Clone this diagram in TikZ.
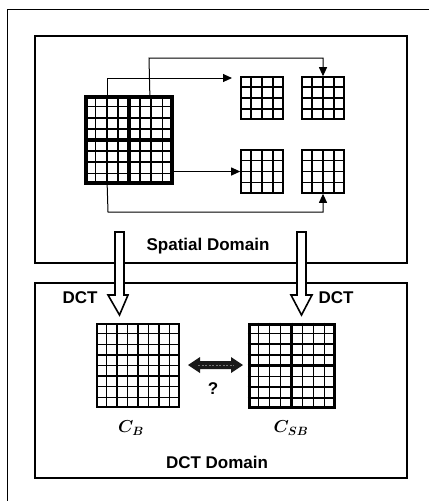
\documentclass[tikz,border=0pt]{standalone}
\usepackage{fontspec}
\setmainfont{Liberation Sans}
\usetikzlibrary{arrows.meta,calc}
\tikzset{
  frame/.style={line width=1pt},
  domainbox/.style={line width=2.4pt},
  cellbox/.style={draw, rectangle, inner sep=0pt, fill=white},
  conn/.style={line width=1pt, -{Triangle[length=9pt,width=8pt]}},
  hollow/.style={draw, line width=1.6pt, fill=white, line join=miter},
  lbl/.style={font=\fontsize{17}{20}\selectfont\bfseries, inner sep=0pt},
  mlbl/.style={font=\fontsize{18}{20}\selectfont\boldmath, inner sep=0pt}
}
\newcommand\cellsgrid[3]{%
  \foreach \k in {#3}{%
    \draw[line width=#2] ($(#1.north west)!\k!(#1.north east)$) -- ($(#1.south west)!\k!(#1.south east)$);
    \draw[line width=#2] ($(#1.north west)!\k!(#1.south west)$) -- ($(#1.north east)!\k!(#1.south east)$);
  }}
\begin{document}
\begin{tikzpicture}[x=1pt,y=-1pt]
\useasboundingbox (0,0) rectangle (430,501);
% outer frame (only top and left visible)
\draw[frame] (429,9) -- (7,9) -- (7,501);
% domain boxes
\node[draw, domainbox, rectangle, minimum width=372pt, minimum height=227pt, inner sep=0pt] (spatial) at (221,149.5) {};
\node[draw, domainbox, rectangle, minimum width=372pt, minimum height=195pt, inner sep=0pt] (dctbox) at (221,380.5) {};
% big spatial block
\node[cellbox, line width=3.5pt, minimum width=86pt, minimum height=86pt] (big) at (129,140) {};
\cellsgrid{big}{1.8pt}{0.125,0.25,0.375,0.625,0.75,0.875}
\cellsgrid{big}{3.5pt}{0.5}
% small blocks
\node[cellbox, line width=1.6pt, minimum width=42pt, minimum height=42pt] (tl) at (262,98) {};
\node[cellbox, line width=1.6pt, minimum width=42pt, minimum height=42pt] (tr) at (323,98) {};
\node[cellbox, line width=1.6pt, minimum width=42pt, minimum height=43pt] (bl) at (262,171.5) {};
\node[cellbox, line width=1.6pt, minimum width=42pt, minimum height=43pt] (br) at (323,171.5) {};
\foreach \n in {tl,tr,bl,br}{\cellsgrid{\n}{1.4pt}{0.25,0.5,0.75}}
% connectors
\coordinate (s1) at ($(big.north west)!0.256!(big.north east)$);
\coordinate (s2) at ($(big.north west)!0.733!(big.north east)$);
\coordinate (s4) at ($(big.south west)!0.256!(big.south east)$);
\coordinate (e1) at (232,78);
\coordinate (t2) at (149,58);
\coordinate (b4) at (108,212);
\draw[conn] (s1) |- (e1);
\draw[conn] (s2) -- (t2) -| (tr.north);
\draw[conn] (big.east |- bl.west) -- (bl.west);
\draw[conn] (s4) -- (b4) -| (br.south);
% labels in spatial domain
\node[lbl] (sdlabel) at (208,246) {Spatial Domain};
% hollow DCT arrows
\draw[hollow] (115,232) -- (124,232) -- (124,295) -- (128,295) -- (119.5,315) -- (108,295) -- (115,295) -- cycle;
\draw[hollow] (297,232) -- (306,232) -- (306,295) -- (312,295) -- (301.5,315) -- (291,295) -- (297,295) -- cycle;
\node[lbl] (dctl) at (80,298) {DCT};
\node[lbl] (dctr) at (336,298) {DCT};
% DCT blocks
\node[cellbox, line width=1.8pt, minimum width=82pt, minimum height=83pt] (cb) at (138,365.5) {};
\cellsgrid{cb}{1.3pt}{0.125,0.25,0.375,0.5,0.625,0.75,0.875}
\node[cellbox, line width=3pt, minimum width=85pt, minimum height=83pt] (csb) at (291.5,365.5) {};
\cellsgrid{csb}{1.5pt}{0.125,0.25,0.375,0.625,0.75,0.875}
\cellsgrid{csb}{3.2pt}{0.5}
\node[mlbl] (cblabel) at (131,428) {$C_{B}$};
\node[mlbl] (csblabel) at (291,428) {$C_{SB}$};
% double arrow between
\fill[black!90] (188,365) -- (200,357) -- (200,361) -- (231,361) -- (231,357) -- (243,365) -- (231,373) -- (231,369) -- (200,369) -- (200,373) -- cycle;
\draw[black!55, line width=0.6pt, dash pattern=on 2pt off 1.5pt] (198,365) -- (234,365);
\node[lbl] (q) at (213,389) {?};
\node[lbl] (dctdomain) at (217,462) {DCT Domain};
\end{tikzpicture}
\end{document}
